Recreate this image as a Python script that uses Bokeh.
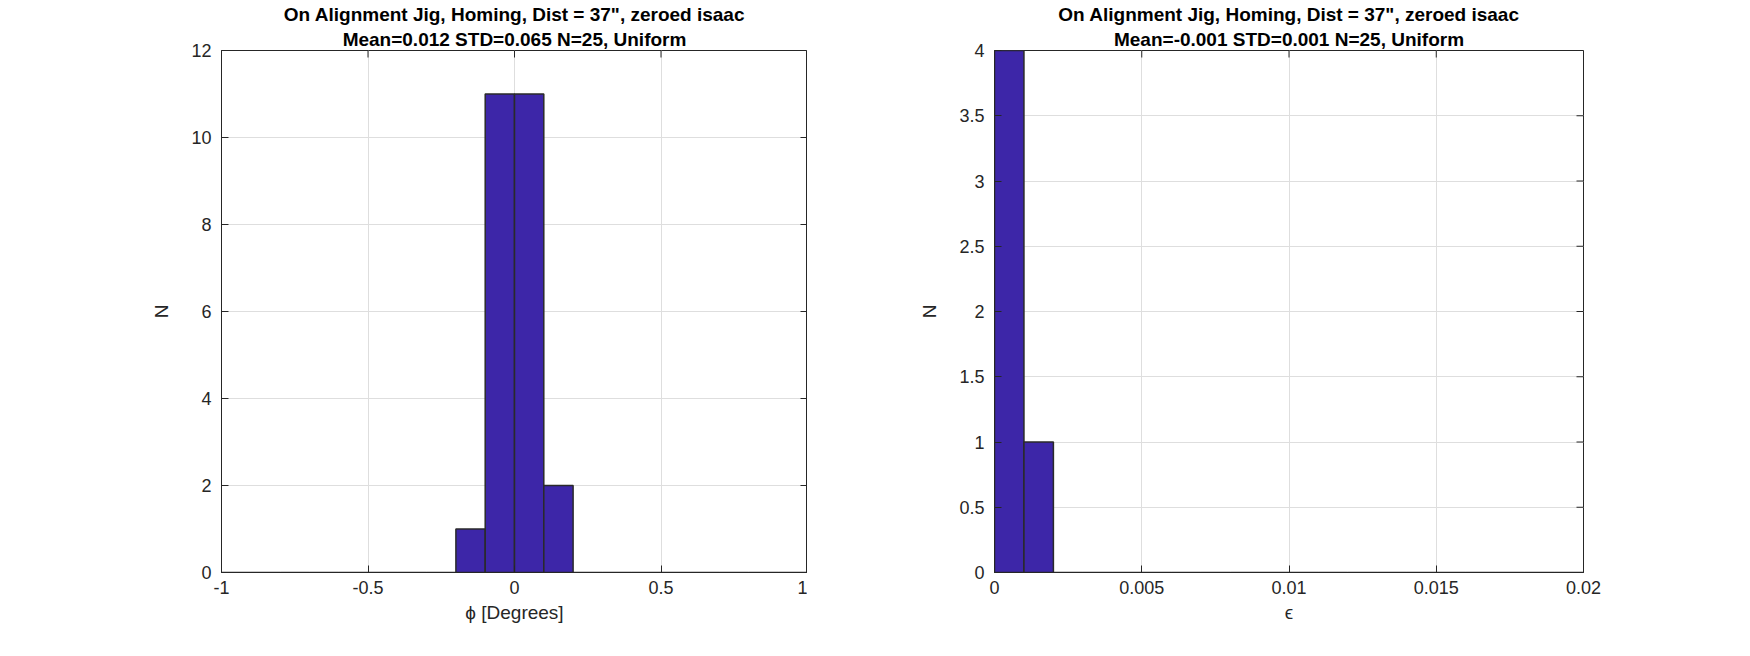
from bokeh.plotting import figure
from bokeh.layouts import row
from bokeh.models import FixedTicker, Range1d, Title
from bokeh.embed import file_html
from bokeh.resources import INLINE

# left histogram: phi [deg], bin width 0.1 from -1 to 1
phi_edges = [-1.0, -0.9, -0.8, -0.7, -0.6, -0.5, -0.4, -0.3, -0.2, -0.1, 0.0,
             0.1, 0.2, 0.3, 0.4, 0.5, 0.6, 0.7, 0.8, 0.9, 1.0]
phi_counts = [0, 0, 0, 0, 0, 0, 0, 0, 1, 11, 11, 2, 0, 0, 0, 0, 0, 0, 0, 0]
phi_xticks = [-1, -0.5, 0, 0.5, 1]
phi_xlabels = ["-1", "-0.5", "0", "0.5", "1"]
phi_yticks = [0, 2, 4, 6, 8, 10, 12]

# right histogram: epsilon, bin width 0.001 from 0 to 0.02
eps_edges = [i / 1000 for i in range(0, 21)]
eps_counts = [4, 1, 0, 0, 0, 0, 0, 0, 0, 0, 0, 0, 0, 0, 0, 0, 0, 0, 0, 0]
eps_xticks = [0, 0.005, 0.01, 0.015, 0.02]
eps_xlabels = ["0", "0.005", "0.01", "0.015", "0.02"]
eps_yticks = [0, 0.5, 1, 1.5, 2, 2.5, 3, 3.5, 4]
eps_ylabels = ["0", "0.5", "1", "1.5", "2", "2.5", "3", "3.5", "4"]

FONT = "Liberation Sans"
BAR = "#3d26a8"
INK = "#262626"


def hist_fig(title1, title2, edges, counts, xr, yr, xticks, xlabels, yticks, ylabels,
             xlabel, left, fw, right):
    p = figure(output_backend="svg", toolbar_location=None,
               x_range=Range1d(*xr), y_range=Range1d(*yr),
               frame_width=fw, frame_height=522,
               min_border_left=left, min_border_right=right,
               min_border_top=0, min_border_bottom=60, title=None)
    for t in (title2, title1):
        p.add_layout(Title(text=t, align="center", text_font=FONT, text_font_size="19px",
                           text_font_style="bold", text_color="black", offset=0,
                           standoff=2), "above")
    p.outline_line_color = INK
    p.outline_line_width = 1
    p.quad(left=edges[:-1], right=edges[1:], top=counts, bottom=0,
           fill_color=BAR, line_color="#2a2a2a", line_width=1.5)
    for ax in (p.xaxis[0], p.yaxis[0]):
        ax.major_tick_in = 7
        ax.major_tick_out = 0
        ax.minor_tick_line_color = None
        ax.axis_line_color = INK
        ax.major_tick_line_color = INK
        ax.major_label_text_font = FONT
        ax.major_label_text_font_size = "18px"
        ax.major_label_text_color = INK
        ax.axis_label_text_font = FONT
        ax.axis_label_text_font_size = "19px"
        ax.axis_label_text_font_style = "normal"
        ax.axis_label_text_color = INK
    p.xaxis.ticker = FixedTicker(ticks=xticks)
    p.xaxis.major_label_overrides = {t: l for t, l in zip(xticks, xlabels)}
    p.yaxis.ticker = FixedTicker(ticks=yticks)
    p.yaxis.major_label_overrides = {t: l for t, l in zip(yticks, ylabels)}
    p.xaxis.axis_label = xlabel
    p.yaxis.axis_label = "N"
    p.xaxis.major_label_standoff = 8
    p.yaxis.major_label_standoff = 10
    p.yaxis.axis_label_standoff = 16
    # ticks on the top and right edges of the box (MATLAB style)
    dy = (yr[1] - yr[0]) * 7 / 522
    dx = (xr[1] - xr[0]) * 7 / fw
    p.segment(x0=xticks, x1=xticks, y0=[yr[1]] * len(xticks),
              y1=[yr[1] - dy] * len(xticks), line_color=INK)
    p.segment(x0=[xr[1]] * len(yticks), x1=[xr[1] - dx] * len(yticks),
              y0=yticks, y1=yticks, line_color=INK)
    p.grid.grid_line_color = "#dedede"
    p.xgrid.ticker = FixedTicker(ticks=xticks)
    p.ygrid.ticker = FixedTicker(ticks=yticks)
    return p


p1 = hist_fig("On Alignment Jig, Homing, Dist = 37\", zeroed isaac",
              "Mean=0.012 STD=0.065 N=25, Uniform",
              phi_edges, phi_counts, (-1, 1), (0, 12), phi_xticks, phi_xlabels,
              phi_yticks, [str(t) for t in phi_yticks], "ϕ [Degrees]", 221, 586, 0)
p2 = hist_fig("On Alignment Jig, Homing, Dist = 37\", zeroed isaac",
              "Mean=-0.001 STD=0.001 N=25, Uniform",
              eps_edges, eps_counts, (0, 0.02), (0, 4), eps_xticks, eps_xlabels,
              eps_yticks, eps_ylabels, "ϵ", 187, 589, 20)

p = row(p1, p2)
open("out.html", "w").write(file_html(p, INLINE))
